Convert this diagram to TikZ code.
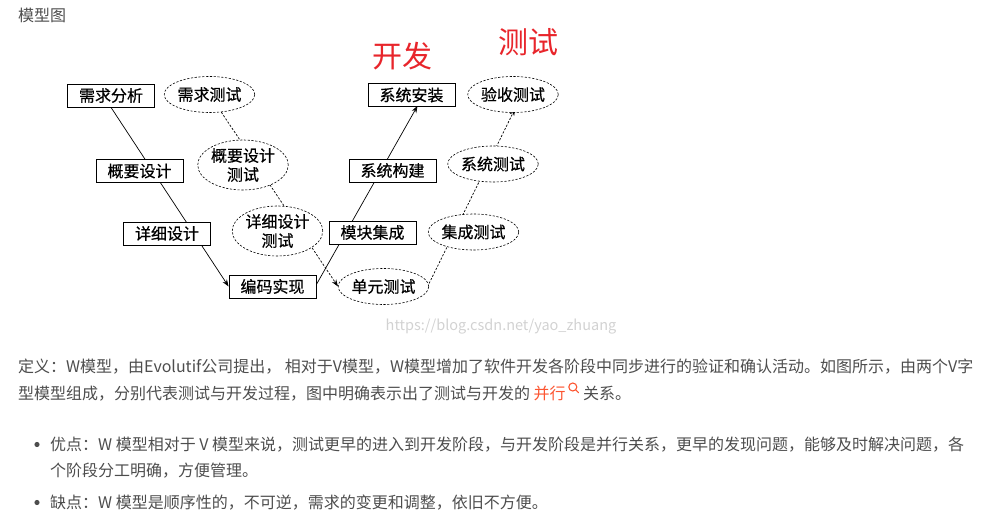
\documentclass[tikz,border=0pt]{standalone}
\usepackage{fontspec}
\setmainfont{Noto Sans CJK SC}
\newfontfamily\diagfont[FakeBold=0.5]{Noto Sans CJK SC}
\usetikzlibrary{shapes.geometric,arrows.meta,backgrounds,calc}
\definecolor{bodytxt}{RGB}{77,77,77}
\definecolor{titlered}{RGB}{232,37,43}
\definecolor{hl}{RGB}{252,85,49}
\definecolor{wmark}{RGB}{210,210,210}
\tikzset{
  devbox/.style={draw, line width=0.8pt, fill=white, minimum width=87pt, minimum height=23pt, inner sep=0pt, font=\diagfont\fontsize{16}{16}\selectfont},
  testell/.style={ellipse, draw, line width=0.6pt, dash pattern=on 2.2pt off 1.6pt, fill=white, minimum width=87pt, minimum height=36pt, inner sep=0pt, align=center, font=\diagfont\fontsize{16}{19}\selectfont},
  twoline/.style={minimum height=50pt},
  devline/.style={line width=0.7pt, -{Stealth[length=7pt,width=5pt]}},
  testline/.style={line width=0.7pt, dash pattern=on 2.2pt off 1.6pt, -{Stealth[length=7pt,width=5pt]}},
  bodytext/.style={anchor=base west, inner sep=0pt, text=bodytxt, font=\fontsize{16}{16}\selectfont},
  redtitle/.style={text=titlered, inner sep=0pt, font=\fontsize{30}{30}\selectfont},
  bulletdot/.style={fill=bodytxt}
}
\begin{document}
\begin{tikzpicture}[x=1pt,y=-1pt]
\useasboundingbox (0,0) rectangle (991,524);

% heading
\node[bodytext] (head) at (18,22) {模型图};

% red titles
\node[redtitle] (kf) at (402,56) {开发};
\node[redtitle] (cs) at (528,42) {测试};

% development side
\node[devbox] (xqfx) at (111,95.5) {需求分析};
\node[devbox] (gysj) at (139.5,171) {概要设计};
\node[devbox] (xxsj) at (167,233.5) {详细设计};
\node[devbox] (bmsx) at (272.5,286.5) {编码实现};
\node[devbox] (mkjc) at (372.5,232.5) {模块集成};
\node[devbox] (xtgj) at (392.5,170.5) {系统构建};
\node[devbox] (xtaz) at (411.5,95) {系统安装};

% test side
\node[testell] (xqcs) at (209.5,94.5) {需求测试};
\node[testell,twoline] (gycs) at (243,165) {概要设计\\测试};
\node[testell,twoline] (xxcs) at (277.5,231) {详细设计\\测试};
\node[testell] (dycs) at (383.5,286.5) {单元测试};
\node[testell] (jccs) at (473.5,232) {集成测试};
\node[testell] (xtcs) at (493,164) {系统测试};
\node[testell] (yscs) at (513,94.5) {验收测试};

\begin{scope}[on background layer]
\draw[devline] (xqfx.south) -- (bmsx.west);
\draw[devline] ($(bmsx.east)+(0,-2)$) -- ($(xtaz.south)+(6,-1)$);
\draw[testline] (xqcs) -- (dycs.west);
\draw[testline] ($(dycs.east)+(0,-3)$) -- ($(yscs.south)+(2,-4)$);
\end{scope}

% watermark
\node[text=wmark, inner sep=0pt, font=\fontsize{14.5}{14.5}\selectfont] (wm) at (501,327) {https://blog.csdn.net/yao\_zhuang};

% definition paragraph
\node[bodytext] (def1) at (18,372) {定义：W模型，由Evolutif公司提出， 相对于V模型，W模型增加了软件开发各阶段中同步进行的验证和确认活动。如图所示，由两个V字};
\node[bodytext] (def2) at (18,399) {型模型组成，分别代表测试与开发过程，图中明确表示出了测试与开发的};
\node[bodytext, text=hl] (bx) at ($(def2.base east)+(3,0)$) {并行};
\coordinate (mg) at ($(bx.base east)+(7,-12)$);
\draw[hl, line width=1.1pt] (mg) circle (4);
\draw[hl, line width=1.1pt, line cap=round] ($(mg)+(2.9,2.9)$) -- ($(mg)+(5.8,5.8)$);
\node[bodytext] (def3) at ($(bx.base east)+(17,0)$) {关系。};

% bullets
\fill[bulletdot] (37,444.5) circle (2.6);
\node[bodytext] (adv1) at (50,450) {优点：W 模型相对于 V 模型来说，测试更早的进入到开发阶段，与开发阶段是并行关系，更早的发现问题，能够及时解决问题，各};
\node[bodytext] (adv2) at (50,476) {个阶段分工明确，方便管理。};
\fill[bulletdot] (37,502.5) circle (2.6);
\node[bodytext] (dis) at (50,508) {缺点：W 模型是顺序性的，不可逆，需求的变更和调整，依旧不方便。};
\end{tikzpicture}
\end{document}
